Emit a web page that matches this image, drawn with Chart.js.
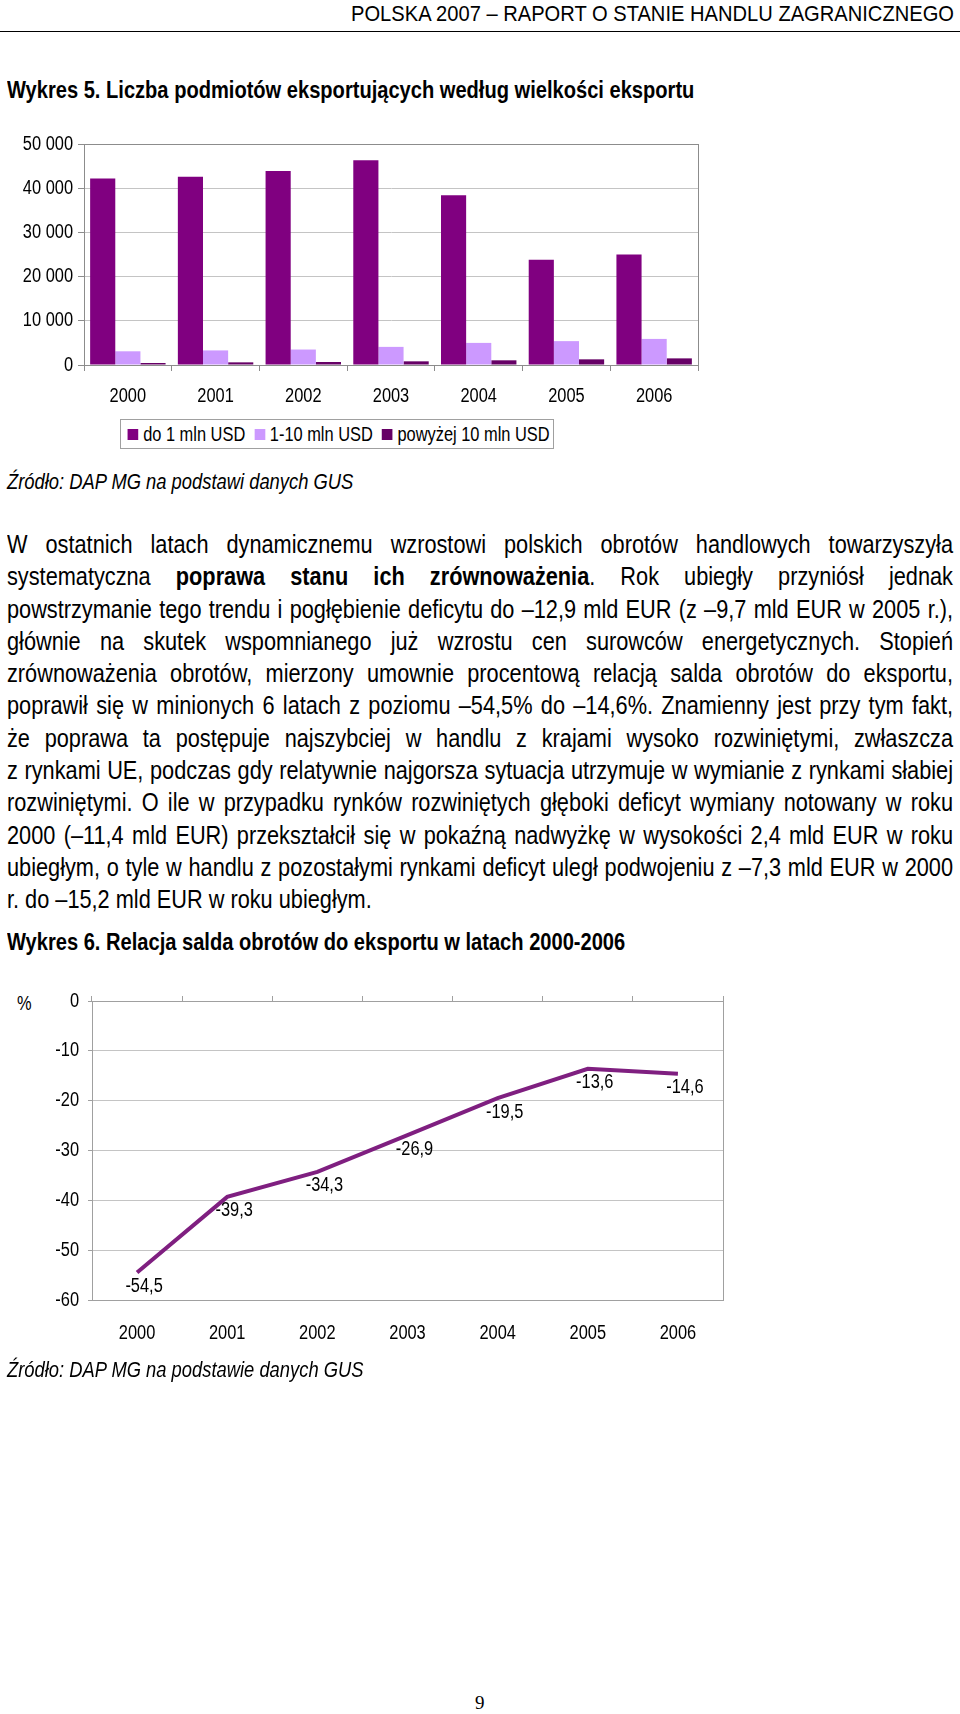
<!DOCTYPE html>
<html lang="pl">
<head>
<meta charset="utf-8">
<title>Wykres 5 i 6</title>
<script src="https://cdn.jsdelivr.net/npm/chart.js@4/dist/chart.umd.min.js"></script>
<style>
  html, body { margin: 0; padding: 0; background: #fff; }
  body {
    position: relative; width: 960px; height: 1714px; overflow: hidden;
    font-family: 'Liberation Sans', Arial, sans-serif;
    color: #000;
  }
  .abs { position: absolute; white-space: nowrap; }
  /* Arial Narrow look: Liberation Sans squeezed horizontally */
  .narrow { transform: scaleX(0.82); transform-origin: 0 0; }
  .header { right: 6px; top: 1px; font-size: 22px; line-height: 26px; transform: scaleX(0.915); transform-origin: 100% 0; }
  .rule { left: 0; width: 960px; top: 31px; height: 0; border-top: 1px solid #000; }
  .title { left: 7px; font-size: 24.5px; font-weight: bold; line-height: 28px; }
  .source { left: 7px; font-size: 22.4px; font-style: italic; line-height: 26px; }
  .text { left: 7px; top: 528px; width: 1153px; font-size: 26.5px; line-height: 32.3px; transform-origin: 0 0; }
  .text div { text-align: justify; text-align-last: justify; white-space: normal; }
  .text div.last { text-align-last: left; }
  .legend { left: 120px; top: 419px; width: 432px; height: 28px; border: 1px solid #a0a0a0; }
  .legend .items { display: flex; align-items: center; height: 28px; padding-left: 8px; font-size: 20px; }
  .legend span.sq { flex: 0 0 auto; display: inline-block; width: 13px; height: 11px; margin-right: 6px; }
  .legend span.lb { flex: 0 0 auto; margin-right: 11px; }
  .pct { left: 17px; top: 991px; font-size: 20px; line-height: 24px; }
  .page { left: 475px; top: 1692px; font-family: 'Liberation Serif', 'DejaVu Serif', serif; font-size: 19px; line-height: 22px; }
</style>
</head>
<body>

<div class="abs header">POLSKA 2007 – RAPORT O STANIE HANDLU ZAGRANICZNEGO</div>
<div class="abs rule"></div>

<div class="abs title narrow" style="top:76px">Wykres 5. Liczba podmiotów eksportujących według wielkości eksportu</div>

<div class="abs" style="left:0; top:124px; width:720px; height:286px;">
  <canvas id="exportersChart"></canvas>
</div>
<div class="abs legend"><div class="items narrow" id="legend1"></div></div>

<div class="abs source narrow" style="top:469px">Źródło: DAP MG na podstawi danych GUS</div>

<div class="abs text" id="para">
  <div>W ostatnich latach dynamicznemu wzrostowi polskich obrotów handlowych towarzyszyła</div>
  <div>systematyczna <b>poprawa stanu ich zrównoważenia</b>. Rok ubiegły przyniósł jednak</div>
  <div>powstrzymanie tego trendu i pogłębienie deficytu do –12,9 mld EUR (z –9,7 mld EUR w 2005 r.),</div>
  <div>głównie na skutek wspomnianego już wzrostu cen surowców energetycznych. Stopień</div>
  <div>zrównoważenia obrotów, mierzony umownie procentową relacją salda obrotów do eksportu,</div>
  <div>poprawił się w minionych 6 latach z poziomu –54,5% do –14,6%. Znamienny jest przy tym fakt,</div>
  <div>że poprawa ta postępuje najszybciej w handlu z krajami wysoko rozwiniętymi, zwłaszcza</div>
  <div>z rynkami UE, podczas gdy relatywnie najgorsza sytuacja utrzymuje w wymianie z rynkami słabiej</div>
  <div>rozwiniętymi. O ile w przypadku rynków rozwiniętych głęboki deficyt wymiany notowany w roku</div>
  <div>2000 (–11,4 mld EUR) przekształcił się w pokaźną nadwyżkę w wysokości 2,4 mld EUR w roku</div>
  <div>ubiegłym, o tyle w handlu z pozostałymi rynkami deficyt uległ podwojeniu z –7,3 mld EUR w 2000</div>
  <div class="last">r. do –15,2 mld EUR w roku ubiegłym.</div>
</div>

<div class="abs title narrow" style="top:928px">Wykres 6. Relacja salda obrotów do eksportu w latach 2000-2006</div>

<div class="abs pct narrow">%</div>
<div class="abs" style="left:0; top:980px; width:740px; height:380px;">
  <canvas id="balanceChart"></canvas>
</div>

<div class="abs source narrow" style="top:1357px">Źródło: DAP MG na podstawie danych GUS</div>

<div class="abs page">9</div>

<script>
// --- data ---
const years = ['2000', '2001', '2002', '2003', '2004', '2005', '2006'];

// Wykres 5: liczba podmiotów
const seriesNames = ['do 1 mln USD', '1-10 mln USD', 'powyżej 10 mln USD'];
const upTo1m = [42200, 42600, 43900, 46300, 38400, 23800, 25000];
const from1to10m = [3100, 3300, 3500, 4100, 5000, 5400, 5900];
const over10m = [450, 600, 680, 830, 1060, 1280, 1500];
const countTicks = [0, 10000, 20000, 30000, 40000, 50000];

// Wykres 6: relacja salda do eksportu (%)
const balanceRatio = [-54.5, -39.3, -34.3, -26.9, -19.5, -13.6, -14.6];
const ratioTicks = [-60, -50, -40, -30, -20, -10, 0];

const seriesColors = ['#800080', '#cc99ff', '#660066'];
const lineColor = '#7f1f80';
const FONT = "'Liberation Sans', Arial, sans-serif";

Chart.defaults.font.family = FONT;
Chart.defaults.font.size = 20;
Chart.defaults.color = '#000';
Chart.defaults.animation = false;

function spaced(n) {
    return String(n).replace(/\B(?=(\d{3})+(?!\d))/g, ' ');
}

// squeeze the justified paragraph so its longest line just fits 946px
function fitParagraph() {
    const box = document.getElementById('para');
    const rows = Array.from(box.children);
    rows.forEach(r => { r.style.display = 'inline-block'; r.style.whiteSpace = 'nowrap'; });
    const widest = Math.max(...rows.map(r => r.offsetWidth));
    rows.forEach(r => { r.style.display = ''; r.style.whiteSpace = ''; });
    const k = Math.min(0.82, 946 / (widest + 4));
    box.style.width = (946 / k) + 'px';
    box.style.transform = 'scaleX(' + k + ')';
}
fitParagraph();

// no Arial Narrow here, so squeeze every canvas label horizontally
function condense(canvas, k) {
    const ctx = canvas.getContext('2d');
    const fill = ctx.fillText;
    ctx.fillText = function (text, x, y) {
        this.save();
        this.translate(x, y);
        this.scale(k, 1);
        fill.call(this, text, 0, 0);
        this.restore();
    };
    return canvas;
}

// gray frame round the plot area
const plotFrame = {
    id: 'plotFrame',
    beforeDatasetsDraw(chart, args, opts) {
        const { ctx, chartArea: a } = chart;
        ctx.save();
        ctx.strokeStyle = opts.color || '#8c8c8c';
        ctx.lineWidth = 1;
        ctx.strokeRect(Math.round(a.left) + 0.5, Math.round(a.top) + 0.5,
            Math.round(a.right - a.left), Math.round(a.bottom - a.top));
        ctx.restore();
    }
};

// value labels under the line points
const pointLabels = {
    id: 'pointLabels',
    afterDatasetsDraw(chart) {
        const { ctx } = chart;
        const meta = chart.getDatasetMeta(0);
        ctx.save();
        ctx.font = '20px ' + FONT;
        ctx.fillStyle = '#000';
        ctx.textAlign = 'center';
        ctx.textBaseline = 'middle';
        meta.data.forEach((pt, i) => {
            const v = chart.data.datasets[0].data[i];
            ctx.fillText(v.toFixed(1).replace('.', ','), pt.x + 7, pt.y + 14);
        });
        ctx.restore();
    }
};

// legend for chart 5
const legendBox = document.getElementById('legend1');
seriesNames.forEach((name, i) => {
    const sq = document.createElement('span');
    sq.className = 'sq';
    sq.style.background = seriesColors[i];
    const lb = document.createElement('span');
    lb.className = 'lb';
    lb.textContent = name;
    legendBox.appendChild(sq);
    legendBox.appendChild(lb);
});

new Chart(condense(document.getElementById('exportersChart'), 0.82), {
    type: 'bar',
    data: {
        labels: years,
        datasets: [upTo1m, from1to10m, over10m].map((d, i) => ({
            label: seriesNames[i],
            data: d,
            backgroundColor: seriesColors[i],
            borderWidth: 0,
            categoryPercentage: 0.86,
            barPercentage: 1.0
        }))
    },
    options: {
        responsive: true,
        maintainAspectRatio: false,
        layout: { padding: { top: 20, right: 22, left: 0, bottom: 0 } },
        plugins: {
            legend: { display: false },
            tooltip: { enabled: false },
            plotFrame: { color: '#8c8c8c' }
        },
        scales: {
            x: {
                grid: { drawOnChartArea: false, tickLength: 6, color: '#8c8c8c', offset: true },
                border: { color: '#8c8c8c' },
                ticks: { padding: 13, autoSkip: false, maxRotation: 0 },
                afterFit: s => { s.height = 45; }
            },
            y: {
                min: 0,
                max: 50000,
                afterBuildTicks: s => { s.ticks = countTicks.map(v => ({ value: v })); },
                grid: { color: '#c4c4c4', tickLength: 6, tickColor: '#8c8c8c' },
                border: { color: '#8c8c8c' },
                ticks: { padding: 5, callback: v => spaced(v) },
                afterFit: s => { s.width = 84; }
            }
        }
    },
    plugins: [plotFrame]
});

new Chart(condense(document.getElementById('balanceChart'), 0.82), {
    type: 'line',
    data: {
        labels: years,
        datasets: [{
            data: balanceRatio,
            borderColor: lineColor,
            borderWidth: 4,
            pointRadius: 0,
            tension: 0,
            fill: false
        }]
    },
    options: {
        responsive: true,
        maintainAspectRatio: false,
        layout: { padding: { top: 15, right: 17, left: 0, bottom: 0 } },
        plugins: {
            legend: { display: false },
            tooltip: { enabled: false },
            plotFrame: { color: '#a0a0a0' }
        },
        scales: {
            x: {
                offset: true,
                grid: { display: false },
                border: { display: false },
                ticks: { padding: 13, autoSkip: false, maxRotation: 0 },
                afterFit: s => { s.height = 60; }
            },
            xTop: {
                position: 'top',
                type: 'category',
                labels: years,
                offset: true,
                grid: { drawOnChartArea: false, tickLength: 5, color: '#a0a0a0', offset: true },
                border: { color: '#a0a0a0' },
                ticks: { display: false },
                afterFit: s => { s.height = 5; }
            },
            y: {
                min: -60,
                max: 0,
                afterBuildTicks: s => { s.ticks = ratioTicks.map(v => ({ value: v })); },
                grid: { color: '#c4c4c4', tickLength: 4, tickColor: '#a0a0a0' },
                border: { color: '#a0a0a0' },
                ticks: { padding: 9 },
                afterFit: s => { s.width = 92; }
            }
        }
    },
    plugins: [plotFrame, pointLabels]
});
</script>
</body>
</html>
